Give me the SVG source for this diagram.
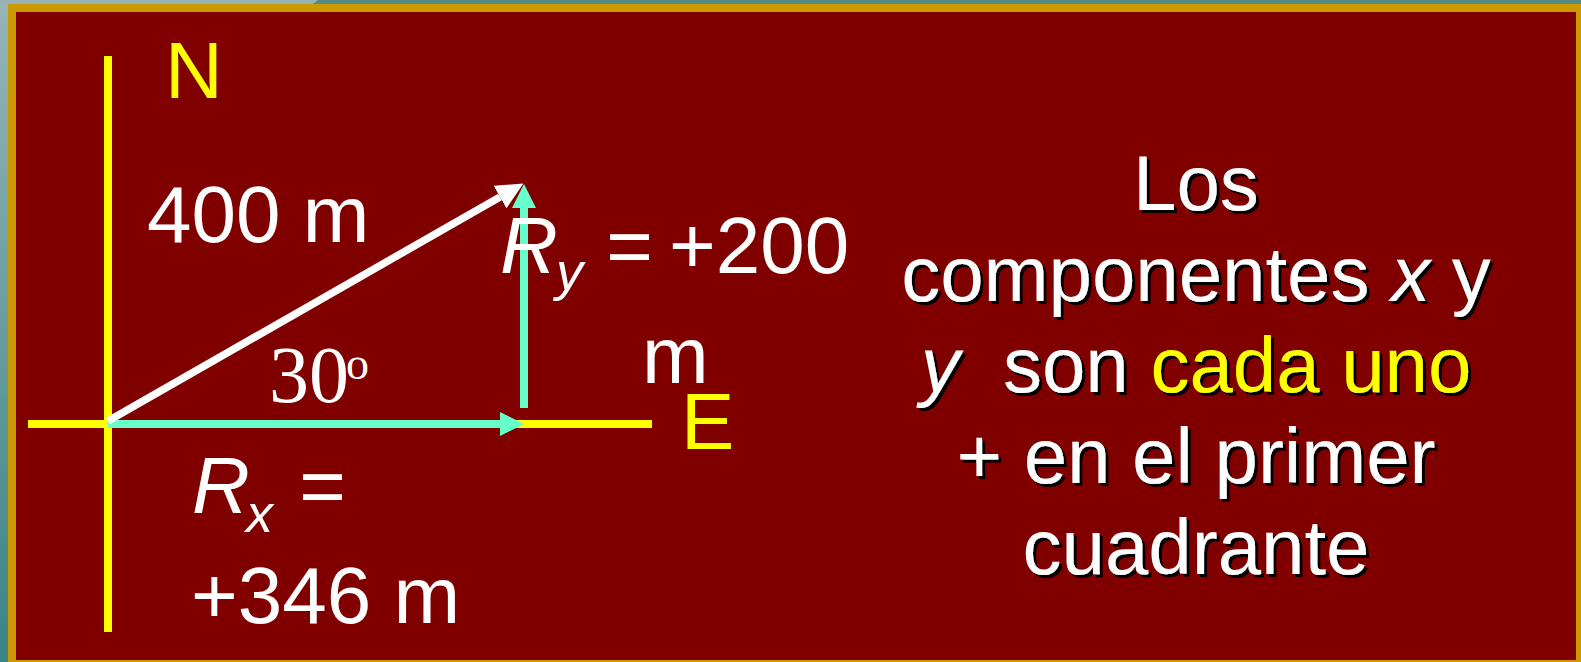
<svg xmlns="http://www.w3.org/2000/svg" width="1581" height="662" viewBox="0 0 1581 662">
<defs>
<linearGradient id="bgl" x1="0" y1="0" x2="0" y2="1">
<stop offset="0" stop-color="#98b4b6"/>
<stop offset="1" stop-color="#3a8484"/>
</linearGradient>
<filter id="sh" x="-5%" y="-20%" width="110%" height="140%">
<feDropShadow dx="3" dy="3" stdDeviation="0" flood-color="#000000" flood-opacity="1"/>
</filter>
<marker id="hc" viewBox="0 -12 24 24" markerWidth="24" markerHeight="24" refX="0" refY="0" markerUnits="userSpaceOnUse" orient="auto">
<path d="M0,-12 L24,0 L0,12 z" fill="#66ffcc"/>
</marker>
<marker id="hw" viewBox="0 -13 27 26" markerWidth="27" markerHeight="26" refX="0" refY="0" markerUnits="userSpaceOnUse" orient="auto">
<path d="M0,-13 L27,0 L0,13 z" fill="#ffffff"/>
</marker>
<style>
.t{font-family:"Liberation Sans",Arial,sans-serif;font-size:80px;fill:#ffffff}
.ty{fill:#ffff00}
.i{font-style:italic}
.r{font-family:"Liberation Sans",Arial,sans-serif;font-size:78px;fill:#ffffff;filter:url(#sh)}
.ax{stroke:#ffff00;stroke-width:8;fill:none}
.cy{stroke:#66ffcc;stroke-width:8;fill:none}
.wh{stroke:#ffffff;stroke-width:7.5;fill:none}
</style>
</defs>
<rect x="0" y="0" width="1581" height="662" fill="#558a82"/>
<rect x="0" y="0" width="8" height="662" fill="url(#bgl)"/>
<polygon points="0,0 318,0 313,4 0,4" fill="#96b2b4"/>
<rect x="8" y="4" width="1573" height="658" fill="#cc9900"/>
<rect x="16" y="12" width="1560" height="648" fill="#800000"/>

<g id="connectors">
<line id="axis-ns" class="ax" x1="108" y1="56" x2="108" y2="632"/>
<line id="axis-ew" class="ax" x1="28" y1="424" x2="652" y2="424"/>
<line id="rx" class="cy" x1="108" y1="424" x2="500" y2="424" marker-end="url(#hc)"/>
<line id="r" class="wh" x1="108" y1="421" x2="500" y2="197" marker-end="url(#hw)"/>
<line id="ry" class="cy" x1="524" y1="408" x2="524" y2="208" marker-end="url(#hc)"/>
</g>

<g id="label-n"><text class="t ty" x="165" y="98">N</text></g>
<g id="label-e"><text class="t ty" x="681" y="449">E</text></g>
<g id="label-400"><text class="t" x="147" y="242">400 m</text></g>
<g id="label-angle">
<text x="269" y="402" style="font-family:'Liberation Serif','Times New Roman',serif;font-size:80px;fill:#ffffff">30</text>
<text x="346" y="379" style="font-family:'Liberation Serif','Times New Roman',serif;font-size:46px;fill:#ffffff">o</text>
</g>
<g id="label-ry">
<text class="t i" x="500" y="273">R</text>
<text class="t i" x="556" y="290" style="font-size:54px">y</text>
<text class="t i" x="605" y="273">=</text>
<text class="t" x="669" y="273">+200</text>
<text class="t" x="642" y="383">m</text>
</g>
<g id="label-rx">
<text class="t i" x="192" y="513">R</text>
<text class="t i" x="246" y="532" style="font-size:54px">x</text>
<text class="t i" x="298" y="513">=</text>
<text class="t" x="191" y="623">+346 m</text>
</g>
<g id="note">
<text class="r" x="1196" y="210" text-anchor="middle">Los</text>
<text class="r" x="1196" y="301" text-anchor="middle" xml:space="preserve">componentes <tspan class="i">x</tspan> y</text>
<text class="r" x="1196" y="392" text-anchor="middle" xml:space="preserve"><tspan class="i">y</tspan>  son <tspan class="ty">cada uno</tspan></text>
<text class="r" x="1196" y="483" text-anchor="middle">+ en el primer</text>
<text class="r" x="1196" y="574" text-anchor="middle">cuadrante</text>
</g>
</svg>
